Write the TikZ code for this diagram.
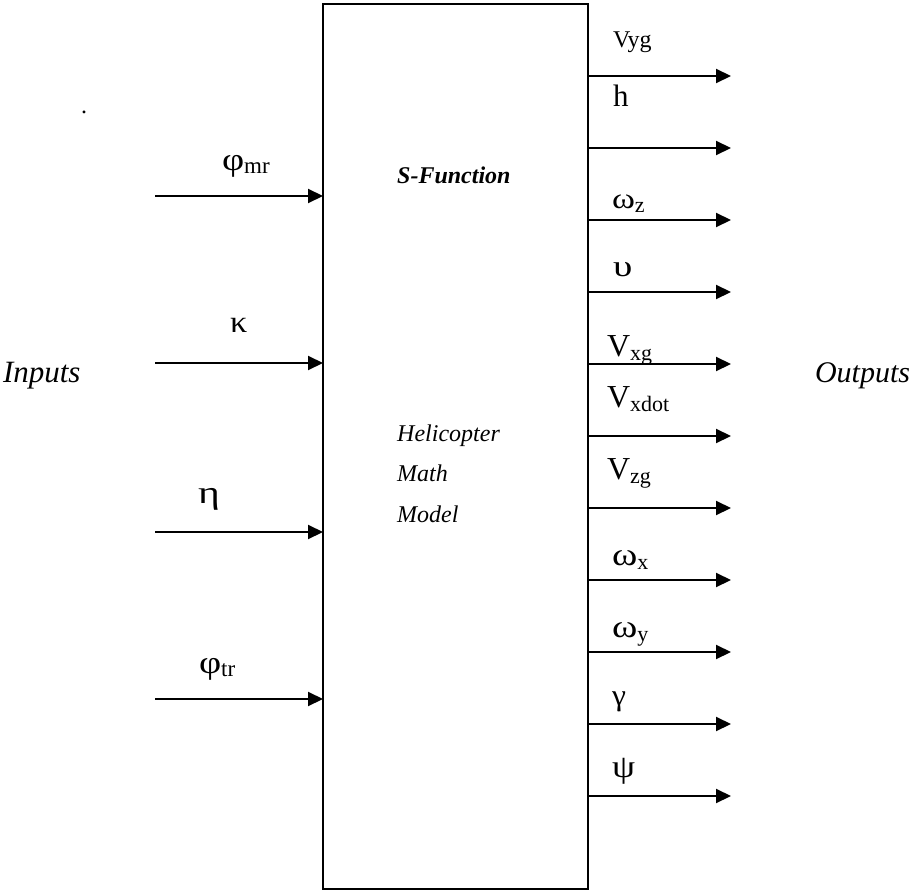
\documentclass[tikz,border=0pt]{standalone}
\usepackage{fontspec}
\setmainfont{Liberation Serif}
\usetikzlibrary{arrows.meta}

% a glyph of size #1, widened by #2
\newcommand{\wglyph}[3]{{\fontsize{#1}{#1}\selectfont\scalebox{#2}[1]{#3}}}
% the same with a lowered subscript #4
\newcommand{\wsub}[4]{\wglyph{#1}{#2}{#3}\raisebox{-4pt}{\fontsize{22}{22}\selectfont #4}}
\newcommand{\sz}[2]{{\fontsize{#1}{#1}\selectfont #2}}

\tikzset{
  flow/.style={line width=2.1pt, -{Triangle[length=15pt,width=14pt]}},
  lbl/.style={anchor=base west, inner sep=0pt, outer sep=0pt},
  mid/.style={anchor=base west, inner sep=0pt, font=\itshape\fontsize{24}{24}\selectfont},
}

\begin{document}
\begin{tikzpicture}[x=1pt, y=-1pt]
\useasboundingbox (0,0) rectangle (914,894);

% the S-Function block
\node[draw, line width=1.6pt, minimum width=265pt, minimum height=885pt,
      anchor=north west, inner sep=0pt, outer sep=0pt] (box) at (323,4) {};

\node[mid, font=\bfseries\itshape\fontsize{24}{24}\selectfont] (title) at (397,183) {S-Function};
\node[mid] (heli) at (397,441) {Helicopter};
\node[mid] (math) at (397,481) {Math};
\node[mid] (model) at (397,522) {Model};

% side captions
\node[lbl, font=\itshape\fontsize{31}{31}\selectfont] (inputs) at (3,382) {Inputs};
\node[lbl, font=\itshape\fontsize{30}{30}\selectfont] (outputs) at (815,382) {Outputs};
\node[lbl, font=\fontsize{24}{24}\selectfont] (dot) at (81,113) {.};

% inputs
\coordinate (in1) at (155,196);
\coordinate (in2) at (155,363);
\coordinate (in3) at (155,532);
\coordinate (in4) at (155,699);
\foreach \i in {1,...,4} {
  \draw[flow] (in\i) -- (in\i -| box.west);
}
\node[lbl] (phimr) at (222,170) {\wglyph{32}{1.2}{φ}\raisebox{-3pt}{\sz{23}{mr}}};
\node[lbl] (kappa) at (230,332) {\wglyph{31}{1.1}{κ}};
\node[lbl] (eta) at (198,503) {\wglyph{32}{1.3}{η}};
\node[lbl] (phitr) at (199,673) {\wglyph{32}{1.2}{φ}\raisebox{-3pt}{\sz{23}{tr}}};

% outputs
\foreach \i/\y in {1/76, 2/148, 3/220, 4/292, 5/364, 6/436, 7/508, 8/580, 9/652, 10/724, 11/796} {
  \coordinate (o\i) at (731,\y);
  \draw[flow] (box.east |- o\i) -- (o\i);
}
\node[lbl] (vyg) at (613,47) {\sz{24}{Vyg}};
\node[lbl] (h) at (613,106) {\sz{31}{h}};
\node[lbl] (omz) at (612,208) {\wsub{29}{1.2}{ω}{z}};
\node[lbl] (ups) at (613,276) {\wglyph{30}{1.3}{υ}};
\node[lbl] (vxg) at (607,356) {\wsub{32}{1}{V}{xg}};
\node[lbl] (vxdot) at (607,407) {\wsub{32}{1}{V}{xdot}};
\node[lbl] (vzg) at (607,479) {\wsub{32}{1}{V}{zg}};
\node[lbl] (omx) at (612,565) {\wsub{32}{1.2}{ω}{x}};
\node[lbl] (omy) at (612,637) {\wsub{32}{1.2}{ω}{y}};
\node[lbl] (gam) at (612,705) {\wglyph{30}{1.05}{γ}};
\node[lbl] (psi) at (612,777) {\wglyph{32}{1.15}{ψ}};
\end{tikzpicture}
\end{document}
